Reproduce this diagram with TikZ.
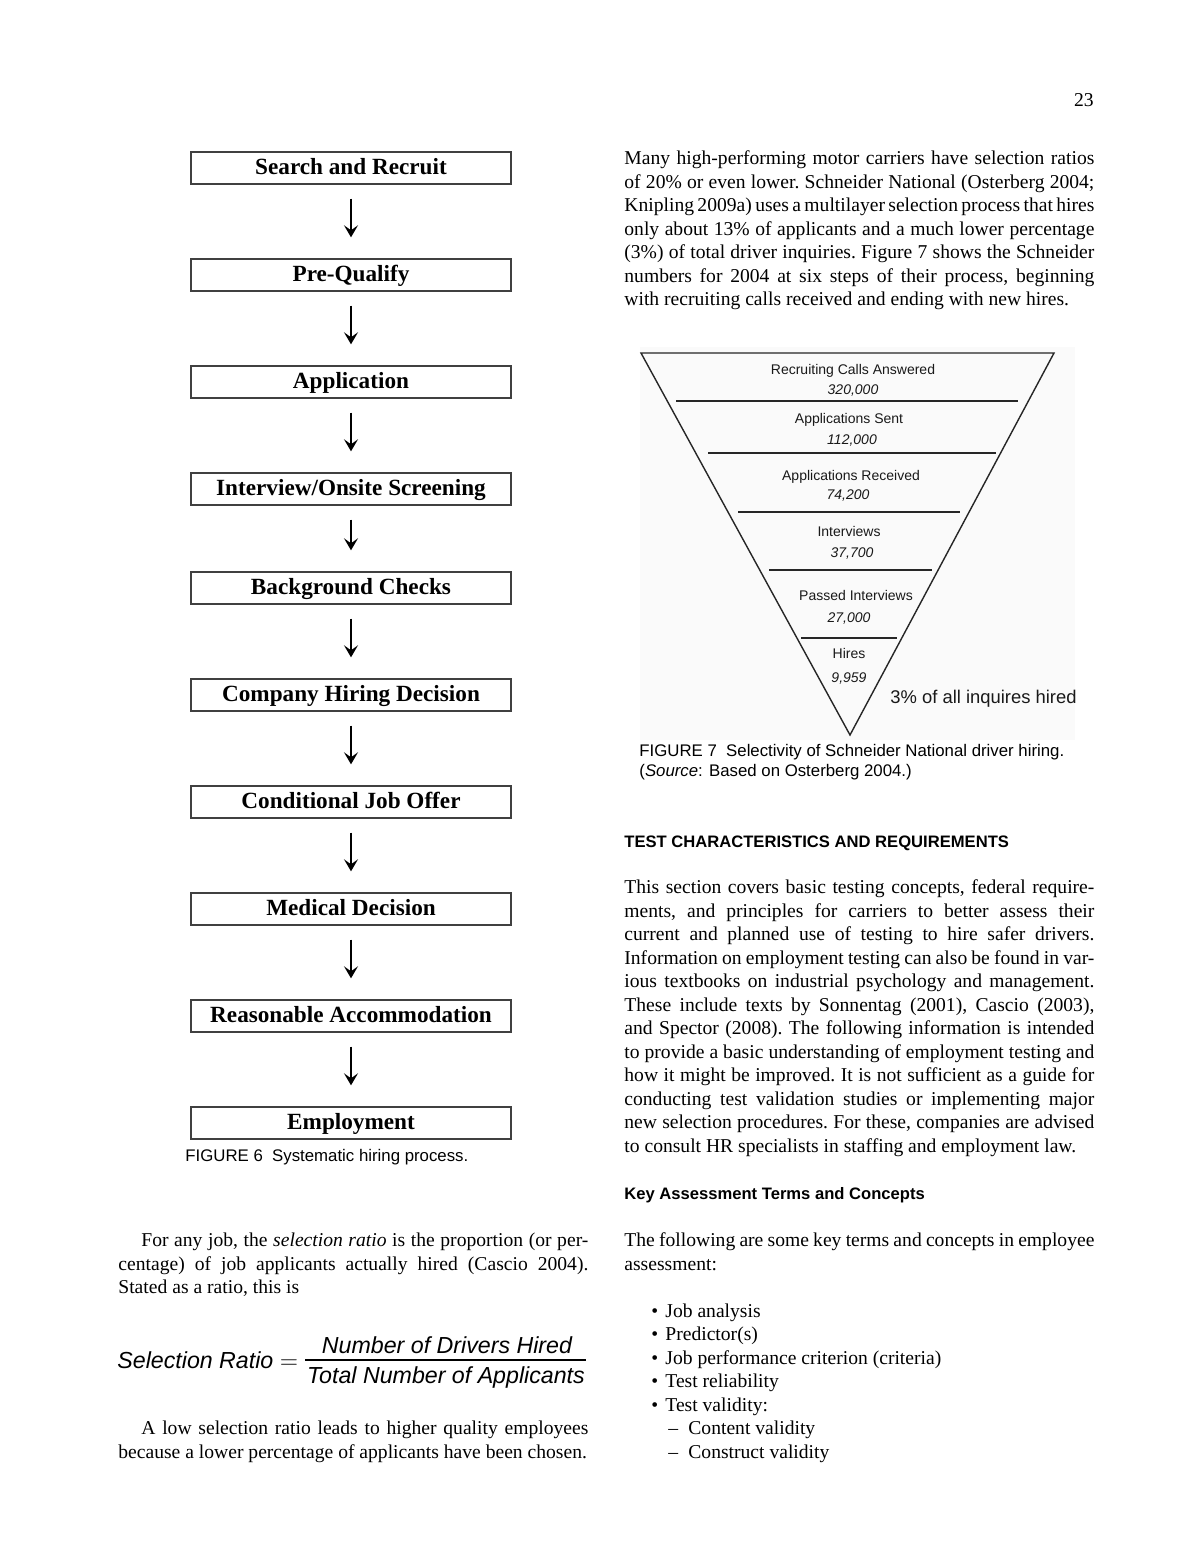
\documentclass[tikz,border=0pt]{standalone}
\usepackage{fontspec}
\setmainfont{Liberation Serif}
\setsansfont{Liberation Sans}
\usetikzlibrary{arrows.meta}
\newcommand{\jl}[1]{\makebox[\hsize][s]{\spaceskip=0pt\xspaceskip=0pt #1}\par}

\begin{document}
\begin{tikzpicture}[x=0.5pt,y=-0.5pt,
		stagebox/.style={draw=black!75, line width=0.7pt, minimum width=160pt, minimum height=16pt,
			inner sep=0pt, text height=8pt, text depth=1.5pt, font=\bfseries\fontsize{11.6}{13}\selectfont},
		flowarrow/.style={-{Stealth[length=6pt,width=7pt,inset=2.5pt]}, line width=0.75pt,
			shorten <=7pt, shorten >=10.5pt},
		bodytext/.style={anchor=base west, inner sep=0pt, text width=235pt, align=justify,
			font=\fontsize{9.8}{11.75}\selectfont\frenchspacing},
		caption/.style={anchor=base west, inner sep=0pt, align=left, font=\sffamily\fontsize{8.4}{10}\selectfont},
		heading/.style={anchor=base west, inner sep=0pt, font=\sffamily\bfseries\fontsize{8.3}{10}\selectfont},
		funnellabel/.style={anchor=base, inner sep=0pt, text=black!90, font=\sffamily\fontsize{7}{8}\selectfont},
		funnelline/.style={draw=black!85, line width=0.7pt},
		eqtext/.style={inner sep=0pt, font=\sffamily\itshape\fontsize{11.6}{13}\selectfont}
	]
	\useasboundingbox[fill=white] (0,0) rectangle (1200,1552);
	
	\node[anchor=base east, inner sep=0pt, font=\fontsize{9.8}{11}\selectfont] (pagenum) at (1094,106) {23};
	
	% hiring process
	\foreach \y/\lbl [count=\i] in {168/Search and Recruit, 275/Pre-Qualify, 382/Application,
		489/{Interview/Onsite Screening}, 588/Background Checks, 695/Company Hiring Decision,
		802/Conditional Job Offer, 909/Medical Decision, 1016/Reasonable Accommodation, 1123/Employment}{
		\node[stagebox] (s\i) at (351,\y) {\lbl};
	}
	\foreach \i in {1,...,9}{
		\pgfmathtruncatemacro{\j}{\i+1}
		\draw[flowarrow] (s\i) -- (s\j);
	}
	\node[caption] (fig6) at (185,1161) {FIGURE 6\ \ Systematic hiring process.};
	
	% funnel
	\fill[black!2] (640,347) rectangle (1075,740);
	\draw[funnelline, line join=miter] (641,353) -- (1054,353) -- (850,735) -- cycle;
	\foreach \y/\xa/\xb in {401/676/1018, 453/708/996, 512/738/960, 570/769/932, 638/801/897}{
		\draw[funnelline] (\xa,\y) -- (\xb,\y);
	}
	\foreach \sx/\sy/\nx/\ny/\stage/\total [count=\k] in {
		853/374/853/394/Recruiting Calls Answered/320{,}000,
		849/423/852/444/Applications Sent/112{,}000,
		851/480/848/499/Applications Received/74{,}200,
		849/536/852/557/Interviews/37{,}700,
		856/600/849/622/Passed Interviews/27{,}000,
		849/658/849/682/Hires/9{,}959}{
		\node[funnellabel] (st\k) at (\sx,\sy) {\stage};
		\node[funnellabel, font=\sffamily\itshape\fontsize{7}{8}\selectfont] (nb\k) at (\nx,\ny) {\total};
	}
	\node[anchor=base west, inner sep=0pt, text=black!90, font=\sffamily\fontsize{9.2}{10}\selectfont]
		(share) at (890,703) {3\% of all inquires hired};
	\node[caption] (fig7) at (639,776) {FIGURE 7\ \ Selectivity of Schneider National driver hiring.\\
		(\textit{Source}: Based on Osterberg 2004.)};
	
	% right column
	\node[bodytext] (para1) at (624,164.5) {%
		\jl{Many high-performing motor carriers have selection ratios}
		\jl{of 20\% or even lower. Schneider National (Osterberg 2004;}
		\jl{Knipling 2009a) uses a multilayer selection process that hires}
		\jl{only about 13\% of applicants and a much lower percentage}
		\jl{(3\%) of total driver inquiries. Figure 7 shows the Schneider}
		\jl{numbers for 2004 at six steps of their process, beginning}
		with recruiting calls received and ending with new hires.};
	
	\node[heading] (head1) at (624,847) {TEST CHARACTERISTICS AND REQUIREMENTS};
	
	\node[bodytext] (para2) at (624,893.5) {%
		\jl{This section covers basic testing concepts, federal require-}
		\jl{ments, and principles for carriers to better assess their}
		\jl{current and planned use of testing to hire safer drivers.}
		\jl{Information on employment testing can also be found in var-}
		\jl{ious textbooks on industrial psychology and management.}
		\jl{These include texts by Sonnentag (2001), Cascio (2003),}
		\jl{and Spector (2008). The following information is intended}
		\jl{to provide a basic understanding of employment testing and}
		\jl{how it might be improved. It is not sufficient as a guide for}
		\jl{conducting test validation studies or implementing major}
		\jl{new selection procedures. For these, companies are advised}
		to consult HR specialists in staffing and employment law.};
	
	\node[heading] (head2) at (624,1199) {Key Assessment Terms and Concepts};
	
	\node[bodytext] (para3) at (624,1246.5) {%
		\jl{The following are some key terms and concepts in employee}
		assessment:};
	
	\node[bodytext] (terms) at (624,1317) {%
		\hspace*{13.5pt}\makebox[7pt][l]{\textbullet}Job analysis\\
		\hspace*{13.5pt}\makebox[7pt][l]{\textbullet}Predictor(s)\\
		\hspace*{13.5pt}\makebox[7pt][l]{\textbullet}Job performance criterion (criteria)\\
		\hspace*{13.5pt}\makebox[7pt][l]{\textbullet}Test reliability\\
		\hspace*{13.5pt}\makebox[7pt][l]{\textbullet}Test validity:\\
		\hspace*{22pt}\makebox[10pt][l]{--}Content validity\\
		\hspace*{22pt}\makebox[10pt][l]{--}Construct validity};
	
	% left column
	\node[bodytext] (para4) at (118,1246.5) {%
		\jl{\hspace*{11.5pt}For any job, the \textit{selection ratio} is the proportion (or per-}
		\jl{centage) of job applicants actually hired (Cascio 2004).}
		Stated as a ratio, this is};
	
	\node[eqtext, anchor=base west] (ratio) at (117,1368) {Selection Ratio};
	\node[inner sep=0pt, anchor=base, font=\fontsize{13}{15}\selectfont] (equals) at (289,1368) {$=$};
	\node[eqtext, anchor=base] (numer) at (447,1353) {Number of Drivers Hired};
	\node[eqtext, anchor=base] (denom) at (446,1383) {Total Number of Applicants};
	\draw[line width=0.6pt] (305,1360) -- (586,1360);
	
	\node[bodytext] (para5) at (118,1434.5) {%
		\jl{\hspace*{11.5pt}A low selection ratio leads to higher quality employees}
		because a lower percentage of applicants have been chosen.};
\end{tikzpicture}
\end{document}
